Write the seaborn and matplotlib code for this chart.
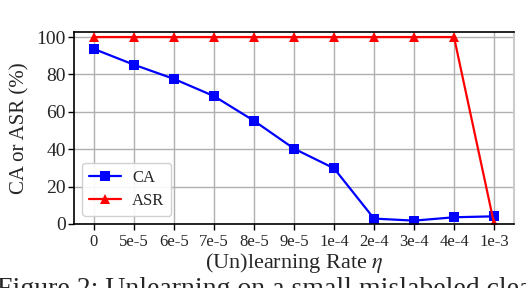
import numpy as np
import pandas as pd
import seaborn as sns
import matplotlib.pyplot as plt

# (un)learning rates on the x axis
rates = ["0", "5e-5", "6e-5", "7e-5", "8e-5", "9e-5", "1e-4", "2e-4", "3e-4", "4e-4", "1e-3"]
# clean accuracy and attack success rate (%)
ca = [93.6, 85.2, 77.6, 68.4, 55.2, 40.3, 29.8, 2.9, 1.8, 3.6, 4.1]
asr = [100, 100, 100, 100, 100, 100, 100, 100, 100, 100, 0.4]

df = pd.DataFrame({
    "rate": rates * 2,
    "value": ca + asr,
    "metric": ["CA"] * len(rates) + ["ASR"] * len(rates),
})

sns.set_style("whitegrid")
plt.rcParams["font.family"] = ["Liberation Serif", "DejaVu Serif"]
plt.rcParams["mathtext.fontset"] = "stix"

fig = plt.figure(figsize=(5.26, 2.88), dpi=100)
ax = fig.add_axes([74 / 526, 1 - 224 / 288, 440 / 526, 192 / 288])

sns.lineplot(data=df, x="rate", y="value", hue="metric", style="metric",
             palette={"CA": "blue", "ASR": "red"},
             markers={"CA": "s", "ASR": "^"}, dashes=False, sort=False,
             linewidth=1.6, markersize=7, markeredgewidth=0, ax=ax)

# shrink triangles a bit
for line in ax.get_lines():
    if line.get_marker() == "^":
        line.set_markersize(6.5)

ax.set_xlim(-0.5, 10.5)
ax.set_ylim(0, 102.7)
ax.set_yticks([0, 20, 40, 60, 80, 100])
ax.set_xlabel(r"(Un)learning Rate $\eta$", fontsize=16, labelpad=1)
ax.set_ylabel("CA or ASR (%)", fontsize=15, labelpad=5)
ax.tick_params(axis="y", labelsize=14, length=4, width=1, left=True, color="black", pad=2)
ax.tick_params(axis="x", labelsize=12, length=4, width=1, bottom=True, color="black", pad=3)
ax.grid(True, color="#b0b0b0", linewidth=1)
for side in ["left", "bottom", "top"]:
    ax.spines[side].set_color("black")
    ax.spines[side].set_linewidth(1.2)
ax.spines["right"].set_color("#cccccc")
ax.spines["right"].set_linewidth(1.5)

handles, labels = ax.get_legend_handles_labels()
ax.legend(handles, labels, loc="lower left", fontsize=12, frameon=True,
          edgecolor="#cccccc", framealpha=0.9, borderpad=0.4,
          handlelength=1.9, handletextpad=0.7, labelspacing=0.45,
          bbox_to_anchor=(0.0, 0.0))

fig.text(-0.005, 1 - 296 / 288, "Figure 2: Unlearning on a small mislabeled clean subset",
         fontsize=20, ha="left", va="baseline")

fig.savefig("out.png", dpi=100)
